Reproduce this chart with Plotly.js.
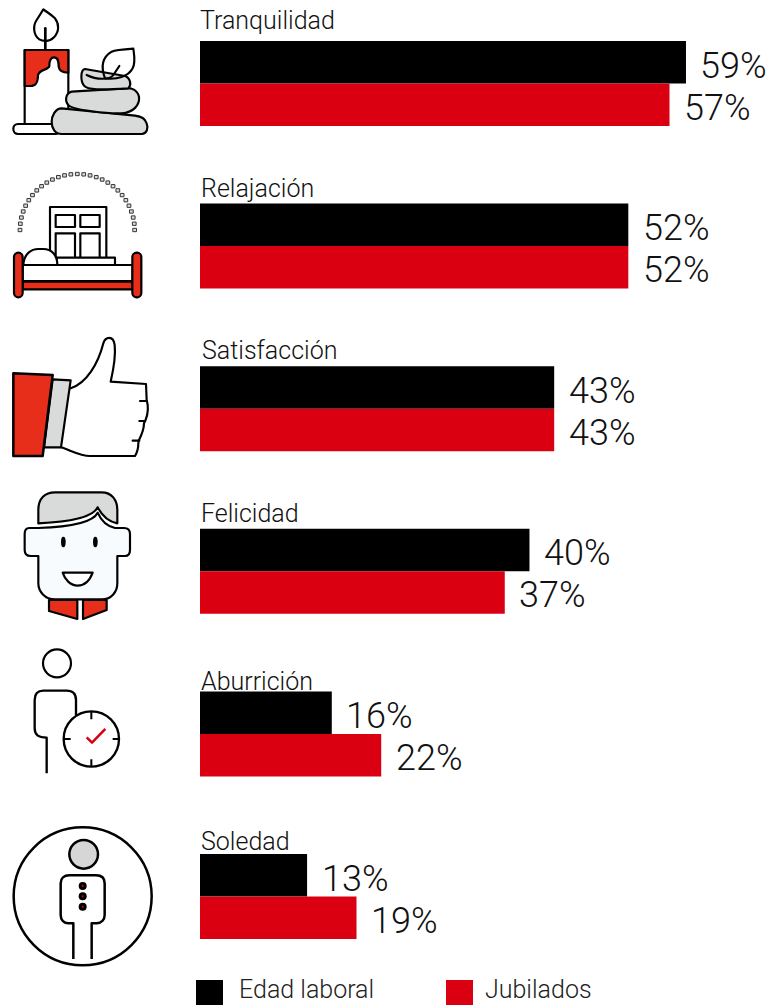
<!DOCTYPE html>
<html>
<head>
<meta charset="utf-8">
<script src="https://cdn.plot.ly/plotly-3.0.1.min.js"></script>
<style>html,body{margin:0;padding:0;background:#fff;overflow:hidden}#chart{width:768px;height:1005px}</style>
</head>
<body>
<div id="chart"></div>
<script>
const categories = ['Tranquilidad','Relajación','Satisfacción','Felicidad','Aburrición','Soledad'];
const seriesNames = ['Edad laboral','Jubilados'];
const edadLaboral = [59,52,43,40,16,13];
const jubilados = [57,52,43,37,22,19];

const BLACK = '#000000', RED = '#db0011', ICONRED = '#e62e1b', GREY = '#d9dbda';
const FONT = 'Roboto, "Open Sans", sans-serif';
const W = 768, H = 1005, PXPER = 8.237, X0 = 200, ROW0 = 83.5, ROWH = 162.6;

const ic = 'stroke="#000" stroke-width="6.5" stroke-linejoin="round"';
let dots = '';
for (let i = 0; i <= 28; i++) {
  const a = Math.PI * i / 28;
  const x = 232.5 - 172 * Math.cos(a), y = 690 - 168 * Math.sin(a);
  dots += `<rect x="${(x-5).toFixed(1)}" y="${(y-5).toFixed(1)}" width="10" height="10" fill="#dcdcdc" stroke="#333" stroke-width="3"/>`;
}
const icons = `<svg xmlns="http://www.w3.org/2000/svg" width="200" height="1005" viewBox="0 0 200 1005">
<g transform="scale(0.33333)"><g ${ic} fill="none" stroke-linecap="round">
<path d="M130 28C122 42 118 48 110 60C98 78 100 105 118 118C130 125 150 125 162 112C178 95 178 72 165 55C152 42 140 36 130 28Z" fill="#fff"/>
<path d="M136 85V148" stroke-width="8"/>
<rect x="74" y="150" width="131" height="222" fill="#fff"/>
<path d="M74 150H205V218C190 218 178 215 176 200C176 188 176 172 162 172C148 172 148 188 148 198C146 210 118 208 114 225C114 245 110 258 92 258H74Z" fill="${ICONRED}"/>
<rect x="40" y="372" width="140" height="30" rx="14" fill="#fff"/>
<path d="M185 325C165 325 155 350 155 365C155 385 165 402 185 402H425C440 402 446 385 440 370C435 355 425 350 405 347Z" fill="${GREY}"/>
<path d="M215 275C195 280 195 305 205 315C215 330 330 342 365 340C400 338 420 315 417 290C412 270 395 262 375 265Z" fill="${GREY}"/>
<path d="M255 207C240 210 242 245 252 257C262 270 300 270 385 265C395 255 392 235 375 228Z" fill="${GREY}"/>
<path d="M400 146C370 148 345 150 335 155C310 170 300 195 315 235C350 240 385 230 398 205C408 185 402 165 400 146Z"/>
<path d="M260 225C290 240 330 240 340 225L358 198"/>
${dots}
<rect x="150" y="621" width="169" height="154" fill="#fff"/>
<rect x="167" y="645" width="58" height="36"/><rect x="241" y="645" width="58" height="36"/>
<rect x="167" y="700" width="58" height="75"/><rect x="241" y="700" width="58" height="75"/>
<rect x="170" y="773" width="175" height="22" fill="#fff"/>
<path d="M70 795C72 760 95 747 115 747H130C155 747 172 765 172 795Z" fill="#fff"/>
<rect x="68" y="795" width="330" height="48" fill="#fff"/>
<rect x="68" y="845" width="330" height="23" fill="${ICONRED}"/>
<rect x="42" y="758" width="26" height="134" rx="13" fill="${ICONRED}"/>
<rect x="397" y="758" width="27" height="134" rx="13" fill="${ICONRED}"/>
</g>
<g transform="translate(0,960)" ${ic} fill="none" stroke-linecap="round">
<path d="M212 205C260 190 295 130 310 70C316 50 340 45 344 75C348 110 340 150 332 185L438 192L440 240C446 260 445 280 436 302L432 310C432 330 425 345 416 362L415 370C415 385 410 400 405 408H270C240 408 210 390 183 382" fill="#fff"/>
<path d="M420 243H440M418 303H435M398 362H418"/>
<path d="M158 178L212 181L183 382H132Z" fill="${GREY}"/>
<path d="M40 160L158 165L128 408H40Z" fill="${ICONRED}" stroke-width="7.5"/>
<path d="M88 624C78 624 74 632 74 642V690C74 702 82 708 92 708H115V790C115 815 135 838 165 838H305C335 838 352 815 352 790V708H375C385 708 390 700 390 690V642C390 630 385 624 372 624H345C325 620 305 605 293 578C280 605 225 620 115 624Z" fill="#f8fbfe"/>
<path d="M115 610V570C115 535 135 517 165 517H305C335 517 352 540 352 570V610C325 605 305 585 293 562C280 590 225 605 115 610Z" fill="${GREY}"/>
<ellipse cx="190" cy="666" rx="7" ry="16" fill="#000" stroke="none"/>
<ellipse cx="286" cy="666" rx="7" ry="16" fill="#000" stroke="none"/>
<path d="M188 758H278C270 780 255 797 233 797C212 797 195 780 188 758Z" fill="#fff"/>
<path d="M147 840H232V897L147 873Z" fill="${ICONRED}"/>
<path d="M249 840H320V870L249 897Z" fill="${ICONRED}"/>
</g>
<g transform="translate(0,1920)" ${ic} fill="none">
<circle cx="171" cy="70" r="42" stroke-width="6.5"/>
<path d="M228 225V180C228 162 218 152 200 152H130C112 152 104 162 104 180V265C104 285 115 293 140 293V400" stroke-width="7"/>
<circle cx="274" cy="297" r="83" fill="#fff" stroke-width="7"/>
<path d="M274 215V238M274 358V380M190 297H212M338 297H358" stroke-width="6"/>
<path d="M260 292L276 308L316 267" stroke="${RED}" stroke-width="7.5"/>
<circle cx="248" cy="769" r="207" stroke-width="7.5"/>
<circle cx="251" cy="643" r="43" fill="#d6d6d6" stroke-width="7.5"/>
<path d="M220 957V850H205C190 850 182 838 182 825V730C182 715 192 706 208 706H288C305 706 314 715 314 730V825C314 838 305 850 290 850H275V957" stroke-width="7.5"/>
<circle cx="248" cy="738" r="12" fill="#000" stroke="none"/><circle cx="248" cy="769" r="12" fill="#000" stroke="none"/><circle cx="248" cy="800" r="12" fill="#000" stroke="none"/>
<circle cx="248" cy="738" r="3" fill="${RED}" stroke="none"/><circle cx="248" cy="769" r="3" fill="${RED}" stroke="none"/><circle cx="248" cy="800" r="3" fill="${RED}" stroke="none"/>
</g></g></svg>`;
const iconUri = 'data:image/svg+xml;charset=utf-8,' + encodeURIComponent(icons);

const labelShift = [63.5, 58, 58.5, 57.5, 52, 55];
const labelX = [-2, -1, 0, -1, -1, -1];
const annotations = [];
categories.forEach((c, i) => {
  annotations.push({x:0, y:c, xref:'x', yref:'y', xanchor:'left', yanchor:'middle', xshift:labelX[i], yshift:labelShift[i],
    text:c, showarrow:false, font:{family:FONT, size:25, color:'#111', weight:300}});
  annotations.push({x:edadLaboral[i], y:c, xref:'x', yref:'y', xanchor:'left', yanchor:'middle', xshift:12.5, yshift:18,
    text:edadLaboral[i]+'%', showarrow:false, font:{family:FONT, size:36, color:'#111', weight:300}});
  annotations.push({x:jubilados[i], y:c, xref:'x', yref:'y', xanchor:'left', yanchor:'middle', xshift:12.5, yshift:-24,
    text:jubilados[i]+'%', showarrow:false, font:{family:FONT, size:36, color:'#111', weight:300}});
});
const legendSwatchX = [196, 446], legendTextX = [238, 484], seriesColors = [BLACK, RED];
const shapes = [];
seriesNames.forEach((n, i) => {
  shapes.push({type:'rect', xref:'paper', yref:'paper', x0:legendSwatchX[i]/W, x1:(legendSwatchX[i]+27)/W, y0:0, y1:25/H,
    fillcolor:seriesColors[i], line:{width:0}});
  annotations.push({x:legendTextX[i]/W, y:0, xref:'paper', yref:'paper', xanchor:'left', yanchor:'bottom', borderpad:0,
    text:n, showarrow:false, font:{family:FONT, size:25, color:'#222', weight:300}});
});

const traces = [
  {type:'bar', orientation:'h', name:seriesNames[0], y:categories, x:edadLaboral, marker:{color:BLACK, line:{width:0}}},
  {type:'bar', orientation:'h', name:seriesNames[1], y:categories, x:jubilados, marker:{color:RED, line:{width:0}}}
];
const layout = {
  width:W, height:H, margin:{l:0,r:0,t:0,b:0}, paper_bgcolor:'#fff', plot_bgcolor:'#fff',
  barmode:'group', bargap:0.477, bargroupgap:0, showlegend:false, hovermode:false,
  xaxis:{range:[-X0/PXPER,(W-X0)/PXPER], visible:false, fixedrange:true},
  yaxis:{type:'category', categoryorder:'array', categoryarray:categories,
         range:[(H-ROW0)/ROWH, -ROW0/ROWH], visible:false, fixedrange:true},
  annotations, shapes,
  images:[{source:iconUri, xref:'paper', yref:'paper', x:0, y:1, sizex:200/W, sizey:1, sizing:'stretch', xanchor:'left', yanchor:'top', layer:'above'}]
};
Plotly.newPlot('chart', traces, layout, {displayModeBar:false, staticPlot:true});
</script>
</body>
</html>
